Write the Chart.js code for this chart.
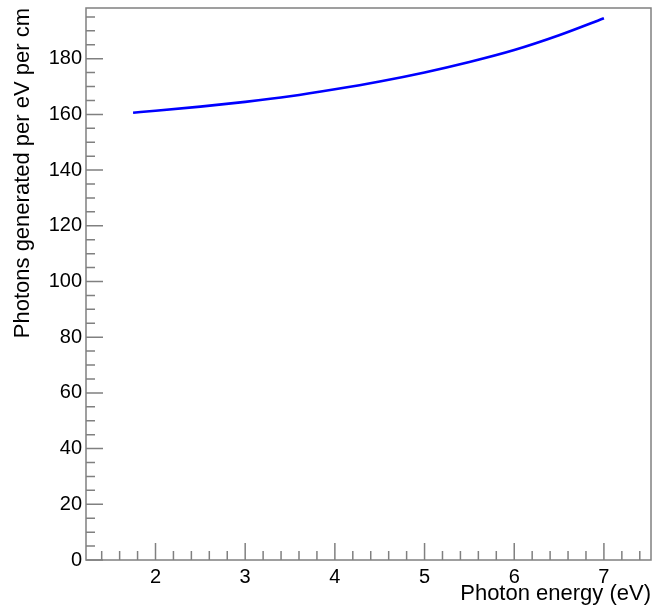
<!DOCTYPE html>
<html>
<head>
<meta charset="utf-8">
<script src="https://cdn.jsdelivr.net/npm/chart.js@4/dist/chart.umd.min.js"></script>
<style>
  html, body { margin: 0; padding: 0; background: #ffffff; }
  canvas { display: block; }
</style>
</head>
<body>
<canvas id="c" width="656" height="610"></canvas>
<script>
// Data
const photonEnergy = [1.75, 2.0, 2.5, 3.0, 3.5, 4.0, 4.5, 5.0, 5.5, 6.0, 6.5, 7.0];
const photonsPerEvPerCm = [160.6, 161.3, 162.8, 164.5, 166.5, 169.0, 171.8, 175.05, 178.8, 183.1, 188.4, 194.5];
const xTitle = 'Photon energy (eV)';
const yTitle = 'Photons generated per eV per cm';

const FONT = "'Liberation Sans', Arial, Helvetica, sans-serif";
const LINE = '#808080';

const points = photonEnergy.map((e, i) => ({ x: e, y: photonsPerEvPerCm[i] }));

// Draws the closed frame and ROOT-style inward ticks using the chart's scales
const rootFrame = {
  id: 'rootFrame',
  afterDraw(chart) {
    const { ctx, chartArea: a, scales } = chart;
    const xs = scales.x, ys = scales.y;
    ctx.save();
    ctx.strokeStyle = LINE;
    ctx.lineWidth = 1.5;
    ctx.strokeRect(a.left, a.top, a.right - a.left, a.bottom - a.top);
    ctx.beginPath();
    // x ticks: major every 1, minor every 0.2
    const xStep = 1, xMinor = 5;
    const xStart = Math.ceil(xs.min / (xStep / xMinor)) * (xStep / xMinor);
    for (let v = xStart; v <= xs.max + 1e-9; v += xStep / xMinor) {
      const r = Math.round(v * 1000) / 1000;
      const major = Math.abs(r - Math.round(r)) < 1e-6;
      const px = xs.getPixelForValue(r);
      const len = major ? 17 : 9;
      ctx.moveTo(px, a.bottom);
      ctx.lineTo(px, a.bottom - len);
    }
    // y ticks: major every 20, minor every 5
    const yStep = 20, yMinor = 4;
    for (let v = 0; v <= ys.max + 1e-9; v += yStep / yMinor) {
      const major = Math.abs(v % yStep) < 1e-6;
      const py = ys.getPixelForValue(v);
      const len = major ? 17 : 9;
      ctx.moveTo(a.left, py);
      ctx.lineTo(a.left + len, py);
    }
    ctx.stroke();
    ctx.restore();
  }
};

new Chart(document.getElementById('c'), {
  type: 'scatter',
  data: {
    datasets: [{
      data: points,
      showLine: true,
      borderColor: '#0000ff',
      borderWidth: 2.6,
      pointRadius: 0,
      pointHoverRadius: 0,
      cubicInterpolationMode: 'monotone',
      fill: false
    }]
  },
  options: {
    responsive: false,
    animation: false,
    events: [],
    layout: { padding: { top: 8, right: 5, left: 0, bottom: 0 } },
    plugins: { legend: { display: false }, tooltip: { enabled: false } },
    scales: {
      x: {
        type: 'linear',
        min: 1.225,
        max: 7.525,
        grid: { display: false, drawTicks: false },
        border: { display: false },
        ticks: {
          stepSize: 1,
          includeBounds: false,
          autoSkip: false,
          maxRotation: 0,
          padding: 5,
          color: '#000000',
          font: { family: FONT, size: 20 }
        },
        title: {
          display: true,
          text: xTitle,
          align: 'end',
          color: '#000000',
          font: { family: FONT, size: 22 },
          padding: { top: 0, bottom: 2.5 }
        },
        afterFit(s) { s.height = 50; s.paddingLeft = 0; s.paddingRight = 0; }
      },
      y: {
        type: 'linear',
        min: 0,
        max: 198.2,
        grid: { display: false, drawTicks: false },
        border: { display: false },
        ticks: {
          stepSize: 20,
          includeBounds: false,
          autoSkip: false,
          padding: 4,
          color: '#000000',
          font: { family: FONT, size: 20 }
        },
        title: {
          display: true,
          text: yTitle,
          align: 'end',
          color: '#000000',
          font: { family: FONT, size: 22 },
          padding: { top: 10, bottom: 0 }
        },
        afterFit(s) { s.width = 86; s.paddingTop = 0; s.paddingBottom = 0; }
      }
    }
  },
  plugins: [rootFrame]
});
</script>
</body>
</html>
